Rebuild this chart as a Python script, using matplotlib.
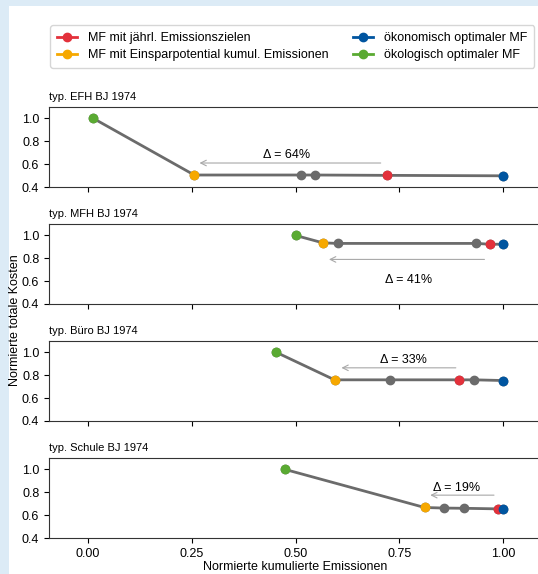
import matplotlib
matplotlib.use("Agg")
import matplotlib.pyplot as plt
from matplotlib.lines import Line2D
from matplotlib.patches import Rectangle

plt.rcParams['font.family'] = ['Liberation Sans', 'DejaVu Sans']

# Daten
titles = ["typ. EFH BJ 1974", "typ. MFH BJ 1974", "typ. Büro BJ 1974", "typ. Schule BJ 1974"]
emis = [
    [0.013, 0.256, 0.514, 0.548, 0.721, 1.0],
    [0.50, 0.566, 0.602, 0.936, 0.968, 1.0],
    [0.454, 0.594, 0.728, 0.893, 0.930, 1.0],
    [0.475, 0.811, 0.859, 0.907, 0.987, 1.0],
]
kosten = [
    [1.0, 0.505, 0.505, 0.505, 0.502, 0.498],
    [1.0, 0.935, 0.930, 0.930, 0.923, 0.923],
    [1.0, 0.760, 0.760, 0.760, 0.760, 0.754],
    [1.0, 0.667, 0.662, 0.660, 0.655, 0.655],
]
# Index der farbigen Punkte: gruen, orange, rot, blau
idx_green = [0, 0, 0, 0]
idx_orange = [1, 1, 1, 1]
idx_red = [4, 4, 3, 4]
idx_blue = [5, 5, 5, 5]
delta_text = ["Δ = 64%", "Δ = 41%", "Δ = 33%", "Δ = 19%"]
arrow_x = [(0.712, 0.262), (0.962, 0.574), (0.893, 0.604), (0.985, 0.818)]
arrow_y = [0.61, 0.79, 0.865, 0.775]
text_xy = [(0.478, 0.68), (0.772, 0.61), (0.76, 0.935), (0.887, 0.84)]

c_red = "#e3313b"
c_orange = "#f6a800"
c_blue = "#0055a0"
c_green = "#5aaa32"
c_gray = "#6b6b6b"

fig = plt.figure(figsize=(5.38, 5.74), dpi=100)
fig.patch.set_facecolor("#dcebf6")
fig.patches.append(Rectangle((9 / 538, 0), 1, 1 - 6 / 574, transform=fig.transFigure,
                             facecolor="white", edgecolor="none", zorder=-10))

bottoms = [0.6742, 0.4704, 0.2666, 0.0627]
axes = []
for i in range(4):
    ax = fig.add_axes([49 / 538, bottoms[i], 495.5 / 538, 80 / 574])
    axes.append(ax)
    x = emis[i]
    y = kosten[i]
    ax.plot(x, y, '-o', color=c_gray, lw=2, ms=6, zorder=2)
    for j, c in [(idx_green[i], c_green), (idx_orange[i], c_orange),
                 (idx_red[i], c_red), (idx_blue[i], c_blue)]:
        ax.plot(x[j], y[j], 'o', color=c, ms=6, zorder=3)
    ax.annotate('', xy=(arrow_x[i][1], arrow_y[i]), xytext=(arrow_x[i][0], arrow_y[i]),
                arrowprops=dict(arrowstyle='->', color='#a8a8a8', lw=0.8))
    ax.text(text_xy[i][0], text_xy[i][1], delta_text[i], ha='center', va='center', fontsize=9)
    ax.set_xlim(-0.094, 1.1)
    ax.set_ylim(0.4, 1.1)
    ax.set_yticks([0.4, 0.6, 0.8, 1.0])
    ax.set_xticks([0.0, 0.25, 0.5, 0.75, 1.0])
    ax.tick_params(labelsize=9, length=3.5)
    ax.set_title(titles[i], loc='left', fontsize=8, pad=5)
    for s in ax.spines.values():
        s.set_color('#333333')
    if i < 3:
        ax.set_xticklabels([])
    else:
        ax.set_xticklabels(["0.00", "0.25", "0.50", "0.75", "1.00"])

fig.text(15 / 538, 1 - 320 / 574, "Normierte totale Kosten", rotation=90,
         ha='center', va='center', fontsize=9)
fig.text(295 / 538, 1 - 567 / 574, "Normierte kumulierte Emissionen",
         ha='center', va='center', fontsize=9)

handles = [
    Line2D([], [], color=c_red, marker='o', lw=2, ms=6),
    Line2D([], [], color=c_orange, marker='o', lw=2, ms=6),
    Line2D([], [], color=c_blue, marker='o', lw=2, ms=6),
    Line2D([], [], color=c_green, marker='o', lw=2, ms=6),
]
labels = ["MF mit jährl. Emissionszielen", "MF mit Einsparpotential kumul. Emissionen",
          "ökonomisch optimaler MF", "ökologisch optimaler MF"]
fig.legend(handles, labels, ncol=2, loc='upper left', bbox_to_anchor=(50 / 538, 1 - 25 / 574),
           fontsize=9, columnspacing=1.9, handlelength=1.6, handletextpad=0.9,
           labelspacing=0.4, borderpad=0.55, borderaxespad=0, frameon=True)

fig.savefig("out.png", dpi=100)
